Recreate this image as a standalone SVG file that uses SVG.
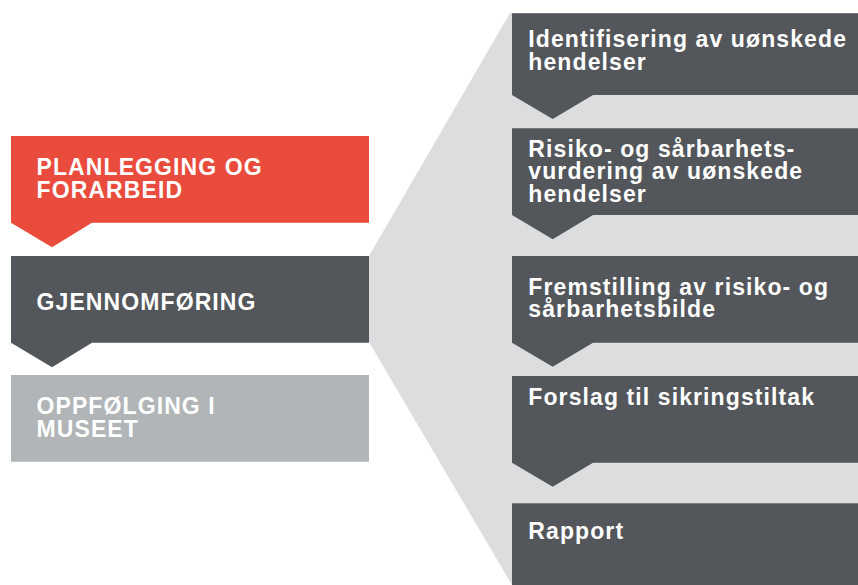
<svg xmlns="http://www.w3.org/2000/svg" width="858" height="585" viewBox="0 0 858 585">
<style>
.t{font-family:"Liberation Sans",Arial,sans-serif;font-weight:bold;font-size:23px;letter-spacing:1.1px;fill:#ffffff}
.tg{fill:#ffffff}
.dark{fill:#53565A}
.red{fill:#E94B3C}
.mid{fill:#B1B5B8}
.bg{fill:#DCDDDF}
</style>
<rect width="858" height="585" fill="#ffffff"/>
<g id="connectors">
<polygon class="bg" points="369,256 510,13 858,13 858,585 512,585 369,342"/>
</g>
<g id="planlegging">
<path class="red" d="M11,136 H369 V222.7 H92 L52,247.3 L11,222.7 Z"/>
<text class="t" x="36.5" y="175">PLANLEGGING OG</text>
<text class="t" x="36.5" y="198.3">FORARBEID</text>
</g>
<g id="gjennomforing">
<path class="dark" d="M11,256 H369 V342.7 H92 L52,367.3 L11,342.7 Z"/>
<text class="t" x="36.5" y="310">GJENNOMFØRING</text>
</g>
<g id="oppfolging">
<rect class="mid" x="11" y="375" width="358" height="86.7"/>
<text class="t" x="36.5" y="414">OPPFØLGING I</text>
<text class="t" x="36.5" y="436.7">MUSEET</text>
</g>
<g id="identifisering">
<path class="dark" d="M512,13.3 H858 V95 H593 L552.7,119 L512,95 Z"/>
<text class="t" x="528.3" y="46.7">Identifisering av uønskede</text>
<text class="t" x="528.3" y="70">hendelser</text>
</g>
<g id="risiko">
<path class="dark" d="M512,128.3 H858 V215 H593 L552.7,239.3 L512,215 Z"/>
<text class="t" x="528.3" y="156.7">Risiko- og sårbarhets-</text>
<text class="t" x="528.3" y="179.3">vurdering av uønskede</text>
<text class="t" x="528.3" y="202.3">hendelser</text>
</g>
<g id="fremstilling">
<path class="dark" d="M512,256 H858 V342.7 H593 L552.7,366.7 L512,342.7 Z"/>
<text class="t" x="528.3" y="295">Fremstilling av risiko- og</text>
<text class="t" x="528.3" y="317.3">sårbarhetsbilde</text>
</g>
<g id="forslag">
<path class="dark" d="M512,376 H858 V462.7 H593 L552.7,486.7 L512,462.7 Z"/>
<text class="t" x="528.3" y="405">Forslag til sikringstiltak</text>
</g>
<g id="rapport">
<rect class="dark" x="512" y="503.3" width="346" height="81.7"/>
<text class="t" x="528.3" y="539.3">Rapport</text>
</g>
</svg>
